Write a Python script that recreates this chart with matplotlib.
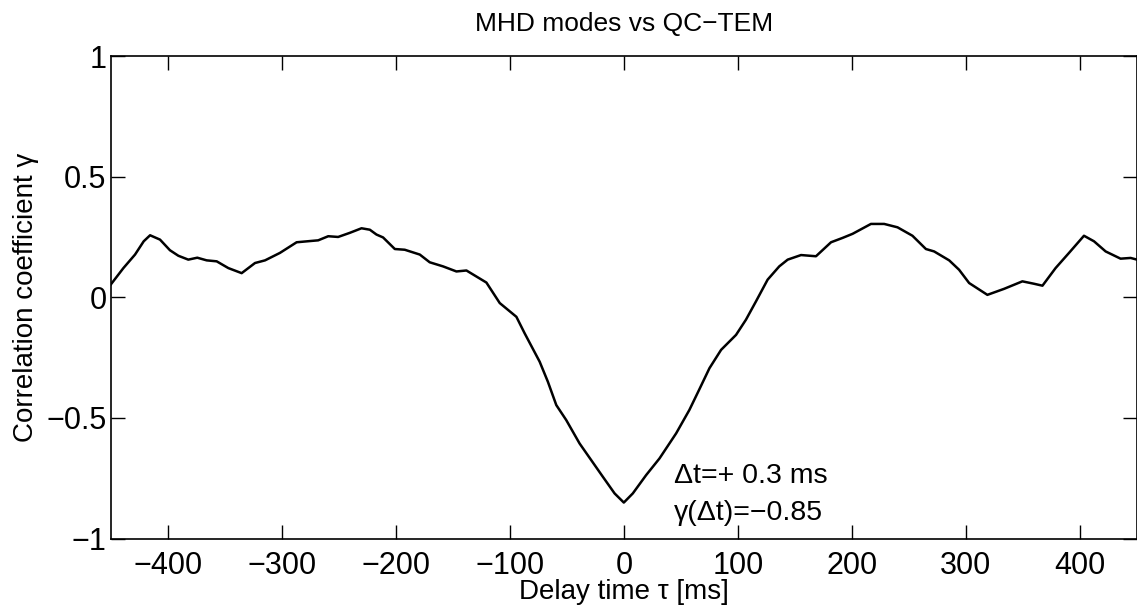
import matplotlib as mpl
mpl.use('Agg')
import numpy as np
import matplotlib.pyplot as plt

mpl.rcParams.update({
    'font.family': ['Liberation Sans', 'DejaVu Sans'],
    'axes.unicode_minus': True,
})

# delay time tau [ms] and correlation coefficient gamma
tau = [-450, -438.8, -428.6, -421, -415.4, -406.7, -398, -390.6, -381.9, -374,
       -365.8, -357, -346.8, -335.1, -323.4, -314.6, -301.5, -286.9, -275.2, -268,
       -259.2, -250.5, -240.3, -230, -222.7, -216.9, -211.1, -200.8, -192.1, -178.9,
       -170.2, -158.5, -146.8, -138, -120.5, -108.8, -94.2, -87, -73.8, -66.6,
       -59.2, -50.5, -38.8, -28.6, -18.4, -8.1, 0, 7.9, 19.6, 31.3,
       45.9, 57.5, 66.3, 75.1, 85.3, 98.4, 107.1, 115.9, 126.1, 136.3,
       143.7, 155.4, 168.5, 181.7, 191.8, 200.6, 216.7, 228.3, 240, 253.1,
       264.9, 272.1, 285.3, 294, 302.8, 318.8, 333.5, 349.5, 359.7, 367.1,
       378.6, 390.4, 403.5, 412.3, 422.5, 435.6, 444.4, 450]
gamma = [0.052, 0.121, 0.177, 0.232, 0.257, 0.239, 0.195, 0.172, 0.156, 0.164,
         0.153, 0.149, 0.121, 0.100, 0.142, 0.153, 0.184, 0.228, 0.233, 0.236,
         0.253, 0.250, 0.267, 0.286, 0.280, 0.260, 0.248, 0.200, 0.197, 0.177,
         0.145, 0.128, 0.107, 0.111, 0.061, -0.024, -0.081, -0.149, -0.267, -0.350,
         -0.447, -0.509, -0.606, -0.675, -0.744, -0.813, -0.851, -0.813, -0.737, -0.668,
         -0.564, -0.467, -0.381, -0.294, -0.218, -0.156, -0.093, -0.017, 0.073, 0.128,
         0.156, 0.175, 0.170, 0.228, 0.246, 0.263, 0.304, 0.304, 0.290, 0.255,
         0.200, 0.190, 0.153, 0.114, 0.059, 0.010, 0.035, 0.066, 0.056, 0.048,
         0.121, 0.184, 0.255, 0.232, 0.190, 0.160, 0.163, 0.156]

xticks = [-400, -300, -200, -100, 0, 100, 200, 300, 400]
yticks = [-1, -0.5, 0, 0.5, 1]
yticklabels = ['\u22121', '\u22120.5', '0', '0.5', '1']

fig = plt.figure(figsize=(11.37, 6.05), dpi=100)
ax = fig.add_axes([0.0973, 0.1099, 0.9027, 0.7975])

ax.plot(tau, gamma, 'k-', lw=1.8, solid_joinstyle='round')
ax.set_xlim(-450, 450)
ax.set_ylim(-1, 1)
ax.set_xticks(xticks)
ax.set_yticks(yticks)
ax.set_yticklabels(yticklabels)
ax.tick_params(direction='in', length=10, width=1, top=True, right=True,
               labelsize=22, pad=3)
ax.tick_params(axis='x', pad=9)
for s in ax.spines.values():
    s.set_linewidth(1.2)

ax.set_title('MHD modes vs QC\u2212TEM', fontsize=19, pad=18)
ax.set_xlabel('Delay time \u03c4 [ms]', fontsize=20)
ax.xaxis.set_label_coords(0.5, -0.083)
ax.set_ylabel('Correlation coefficient \u03b3', fontsize=20, labelpad=5)

ax.text(44, -0.77, '\u0394t=+ 0.3 ms', fontsize=20.5, va='baseline')
ax.text(44, -0.925, '\u03b3(\u0394t)=\u22120.85', fontsize=20.5, va='baseline')

fig.savefig('out.png', dpi=100)
